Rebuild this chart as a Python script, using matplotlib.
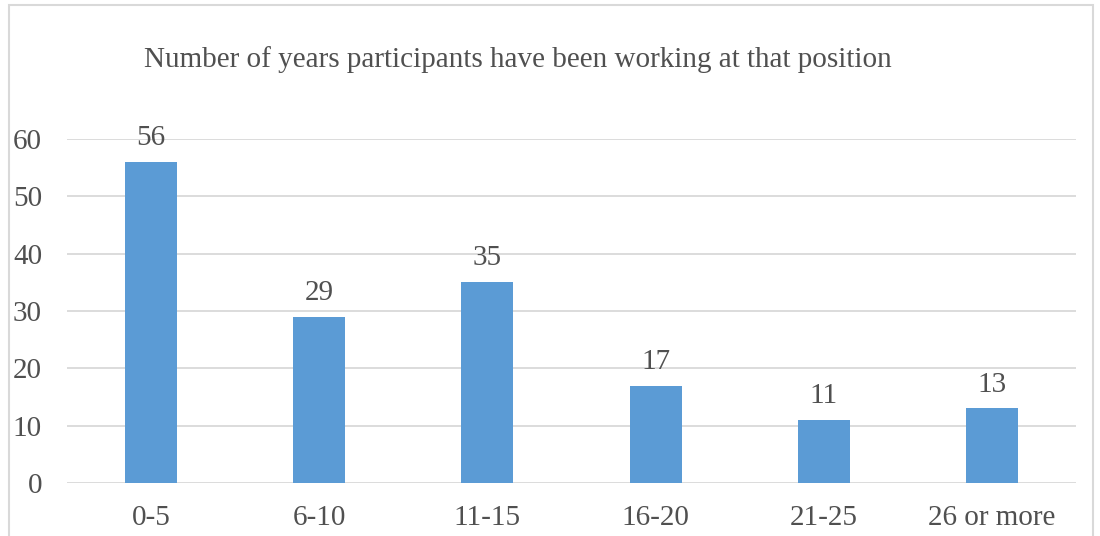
import matplotlib
matplotlib.use('Agg')
import matplotlib.pyplot as plt
from matplotlib.patches import Rectangle

#%% Data:

categories = ['0-5', '6-10', '11-15', '16-20', '21-25', '26 or more']
counts = [56, 29, 35, 17, 11, 13]
title = 'Number of years participants have been working at that position'

#%% Style:

plt.rcParams['font.family'] = ['Liberation Serif', 'DejaVu Serif']
txt_color = '#505050'
bar_color = '#5B9BD5'
grid_color = '#D9D9D9'
fs = 21

#%% Plotting:

fig = plt.figure(figsize=(11, 5.36), dpi=100)
ax = fig.add_axes([67/1100, 1 - 483/536, 1009/1100, 344/536])

x = range(len(categories))
bars = ax.bar(x, counts, width=0.31, color=bar_color, zorder=3)
for xi, v in zip(x, counts):
    ax.text(xi, v + 1.9, str(v), ha='center', va='bottom',
            fontsize=fs, color=txt_color)

ax.set_xlim(-0.5, len(categories) - 0.5)
ax.set_ylim(0, 60)
ax.set_yticks(range(0, 61, 10))
ax.set_xticks(list(x))
ax.set_xticklabels(categories)
ax.tick_params(axis='both', length=0, labelsize=fs, labelcolor=txt_color)
ax.tick_params(axis='x', pad=16)
ax.tick_params(axis='y', pad=18)
ax.yaxis.grid(True, color=grid_color, linewidth=1.3, zorder=0)
ax.set_axisbelow(True)
for s in ax.spines.values():
    s.set_visible(False)

fig.text(518/1100, 1 - 60/536, title, ha='center', va='center',
         fontsize=fs, color=txt_color)

# Chart border
fig.patches.append(Rectangle((9/1100, -0.05), 1084/1100, 1.05 - 5/536,
                             transform=fig.transFigure, fill=False,
                             edgecolor=grid_color, linewidth=1.5))

fig.savefig('out.png', dpi=100)
